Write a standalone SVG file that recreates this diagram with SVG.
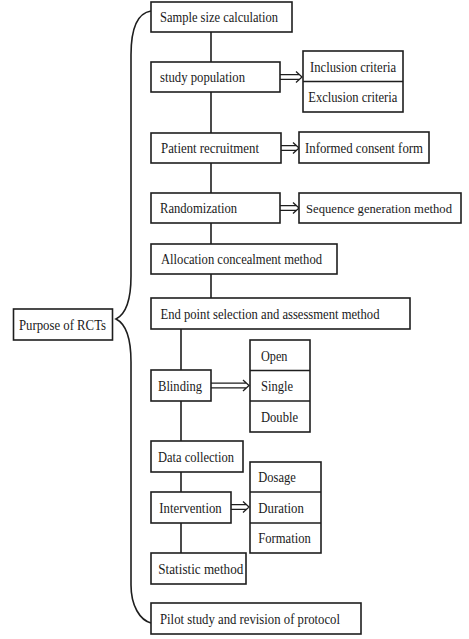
<svg xmlns="http://www.w3.org/2000/svg" width="469" height="639" viewBox="0 0 469 639">
<style>
rect{fill:#fff;stroke:#1e1e1e;stroke-width:1.6}
.ln{fill:none;stroke:#1e1e1e;stroke-width:1.6}
.ar{fill:none;stroke:#1e1e1e;stroke-width:1.3}
text{font-family:"Liberation Serif","Times New Roman",serif;font-size:14.5px;fill:#1a1a1a}
</style>
<rect x="0" y="0" width="469" height="639" style="stroke:none;fill:#fff"/>
<g id="connectors">
<path class="ln" d="M211,32V62M211,92V133M211,163V193M211,223V244M211,274V298M181,329V370M181,401V441M181,472V492M181,523V553"/>
<path class="ln" d="M151,11C138,13 131,28 131,55L131,276C131,300 126,314 116,319C126,324 131,338 131,362L131,585C131,606 140,620 151,623"/>
<g class="ar">
<path d="M280,74.7H299M280,79.3H299M296,71.5L302,77L296,82.5"/>
<path d="M281,145.7H296M281,150.3H296M293,142.5L299,148L293,153.5"/>
<path d="M280,205.7H296M280,210.3H296M293,202.5L299,208L293,213.5"/>
<path d="M211,383.2H246M211,387.8H246M243,380L249,385.5L243,391"/>
<path d="M231,504.7H246M231,509.3H246M243,501.5L249,507L243,512.5"/>
</g>
</g>
<g id="purpose"><rect x="13.5" y="309" width="99" height="31"/><text x="19" y="330" textLength="87" lengthAdjust="spacingAndGlyphs">Purpose of RCTs</text></g>
<g id="sample"><rect x="151" y="2" width="141" height="30"/><text x="160" y="22" textLength="118" lengthAdjust="spacingAndGlyphs">Sample size calculation</text></g>
<g id="study"><rect x="151" y="62" width="129" height="30"/><text x="160" y="82" textLength="85" lengthAdjust="spacingAndGlyphs">study population</text></g>
<g id="criteria"><rect x="303" y="51" width="100" height="61"/><path class="ln" d="M303,81.5H403"/><text x="310" y="71.5" textLength="86" lengthAdjust="spacingAndGlyphs">Inclusion criteria</text><text x="308.3" y="102" textLength="89" lengthAdjust="spacingAndGlyphs">Exclusion criteria</text></g>
<g id="patient"><rect x="151" y="133" width="130" height="30"/><text x="161" y="153" textLength="98" lengthAdjust="spacingAndGlyphs">Patient recruitment</text></g>
<g id="consent"><rect x="299" y="132" width="130" height="31"/><text x="305" y="153" textLength="118" lengthAdjust="spacingAndGlyphs">Informed consent form</text></g>
<g id="randomization"><rect x="151" y="193" width="129" height="30"/><text x="160" y="213" textLength="77" lengthAdjust="spacingAndGlyphs">Randomization</text></g>
<g id="sequence"><rect x="299" y="193" width="162" height="30"/><text x="306" y="213" textLength="146" lengthAdjust="spacingAndGlyphs" style="font-size:13.2px">Sequence generation method</text></g>
<g id="allocation"><rect x="151" y="244" width="186" height="30"/><text x="161" y="264" textLength="161" lengthAdjust="spacingAndGlyphs">Allocation concealment method</text></g>
<g id="endpoint"><rect x="151" y="298" width="259" height="31"/><text x="160.5" y="318.5" textLength="219" lengthAdjust="spacingAndGlyphs">End point selection and assessment method</text></g>
<g id="blinding"><rect x="151" y="370" width="60" height="31"/><text x="158" y="390.5" textLength="44" lengthAdjust="spacingAndGlyphs">Blinding</text></g>
<g id="blindtypes"><rect x="250" y="340" width="60" height="92"/><path class="ln" d="M250,370.5H310M250,401H310"/><text x="261" y="360.5" textLength="26.5" lengthAdjust="spacingAndGlyphs">Open</text><text x="261" y="391" textLength="32" lengthAdjust="spacingAndGlyphs">Single</text><text x="261" y="421.5" textLength="37" lengthAdjust="spacingAndGlyphs">Double</text></g>
<g id="data"><rect x="151" y="441" width="92" height="31"/><text x="158" y="461.5" textLength="76" lengthAdjust="spacingAndGlyphs">Data collection</text></g>
<g id="intervention"><rect x="151" y="492" width="80" height="31"/><text x="159.3" y="512.5" textLength="62.4" lengthAdjust="spacingAndGlyphs">Intervention</text></g>
<g id="interventiontypes"><rect x="250" y="462" width="71" height="91"/><path class="ln" d="M250,492H321M250,523H321"/><text x="258.3" y="482" textLength="37.5" lengthAdjust="spacingAndGlyphs">Dosage</text><text x="258.3" y="512.5" textLength="45.5" lengthAdjust="spacingAndGlyphs">Duration</text><text x="258.3" y="543" textLength="52.5" lengthAdjust="spacingAndGlyphs">Formation</text></g>
<g id="statistic"><rect x="151" y="553" width="95" height="31"/><text x="158.3" y="573.5" textLength="85" lengthAdjust="spacingAndGlyphs">Statistic method</text></g>
<g id="pilot"><rect x="151" y="603" width="210" height="31"/><text x="160" y="623.5" textLength="180" lengthAdjust="spacingAndGlyphs">Pilot study and revision of protocol</text></g>
</svg>
